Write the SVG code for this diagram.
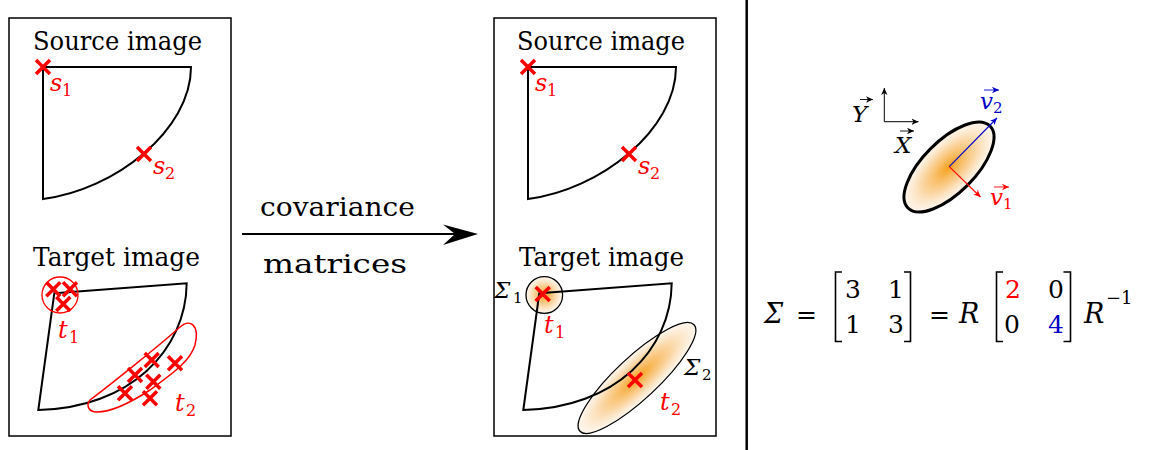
<svg xmlns="http://www.w3.org/2000/svg" width="1151" height="450" viewBox="0 0 1151 450">
<defs>
<style>
.box{fill:none;stroke:#000;stroke-width:1.5}
.shape{fill:none;stroke:#000;stroke-width:2}
.title{font-size:26px;fill:#000}
.lab{font-style:italic;font-size:24px;fill:#f00}
.sub{font-size:16px;fill:#f00}
.blab{font-style:italic;font-size:23px;fill:#000}
.bsub{font-size:15px;fill:#000}
.eq{font-size:25px;fill:#000}
.eqi{font-style:italic;font-size:27px;fill:#000}
.br{fill:none;stroke:#000;stroke-width:1.6}
</style>
<radialGradient id="glow" cx="0.5" cy="0.5" r="0.5">
<stop offset="0" stop-color="#f6a01a" stop-opacity="1"/>
<stop offset="0.55" stop-color="#f9c47a" stop-opacity="0.75"/>
<stop offset="1" stop-color="#fdeedd" stop-opacity="0.5"/>
</radialGradient>
<path id="cross" d="M-7,-7 L7,7 M7,-7 L-7,7" stroke="#f00" stroke-width="3.5" fill="none"/>
<marker id="ahk" markerWidth="8" markerHeight="8" refX="7" refY="4" orient="auto" markerUnits="userSpaceOnUse"><path d="M0,0.8 L7,4 L0,7.2 L2,4 Z" fill="#000"/></marker>
<marker id="ahr" markerWidth="8" markerHeight="8" refX="7" refY="4" orient="auto" markerUnits="userSpaceOnUse"><path d="M0,0.8 L7,4 L0,7.2 L2,4 Z" fill="#f00"/></marker>
<marker id="ahb" markerWidth="8" markerHeight="8" refX="7" refY="4" orient="auto" markerUnits="userSpaceOnUse"><path d="M0,0.8 L7,4 L0,7.2 L2,4 Z" fill="#0000c8"/></marker>
</defs>

<g font-family="DejaVu Serif, Liberation Serif, Noto Serif, serif">
<g id="left-panel">
<rect class="box" x="9" y="18" width="222" height="418"/>
<text class="title" x="33" y="50" textLength="169" lengthAdjust="spacingAndGlyphs">Source image</text>
<path class="shape" d="M43,67 L191,67 C191,130 115,190 43,199 Z"/>
<use href="#cross" x="43" y="67"/>
<use href="#cross" x="144" y="154"/>
<text class="lab" x="50" y="91">s</text><text class="sub" x="62" y="96">1</text>
<text class="lab" x="153" y="174">s</text><text class="sub" x="165" y="179">2</text>
<text class="title" x="33" y="266" textLength="167" lengthAdjust="spacingAndGlyphs">Target image</text>
<path class="shape" d="M54.3,293.3 L186.7,283.3 C186,350 130,408 38.3,410 Z"/>
<circle cx="60" cy="295" r="18" fill="none" stroke="#f00" stroke-width="1.3"/>
<path d="M90,400 C110,385 160,345 180,327 C190,318 200,325 195,345 C190,362 170,375 150,390 C130,403 110,412 97,412 C88,412 86,405 90,400 Z" fill="none" stroke="#f00" stroke-width="1.5"/>
<use href="#cross" x="53.3" y="289.3"/>
<use href="#cross" x="70" y="289.3"/>
<use href="#cross" x="63.3" y="304"/>
<use href="#cross" x="151.7" y="360"/>
<use href="#cross" x="175" y="363.3"/>
<use href="#cross" x="135" y="375"/>
<use href="#cross" x="153.3" y="381.7"/>
<use href="#cross" x="125" y="393.3"/>
<use href="#cross" x="150" y="398.3"/>
<text class="lab" x="58" y="338">t</text><text class="sub" x="69" y="343">1</text>
<text class="lab" x="175" y="411">t</text><text class="sub" x="186" y="416">2</text>
</g>

<g id="connectors">
<line x1="242" y1="234" x2="458" y2="234" stroke="#000" stroke-width="2"/>
<path d="M478,234 L443,224.5 L455,234 L443,245 Z" fill="#000"/>
<text class="title" x="260" y="216" textLength="155" lengthAdjust="spacingAndGlyphs">covariance</text>
<text class="title" x="263" y="273" textLength="144" lengthAdjust="spacingAndGlyphs">matrices</text>
</g>

<g id="middle-panel">
<rect class="box" x="494" y="18" width="222" height="418"/>
<text class="title" x="517" y="50" textLength="168" lengthAdjust="spacingAndGlyphs">Source image</text>
<path class="shape" d="M528,67 L676,67 C676,130 600,190 528,199 Z"/>
<use href="#cross" x="528" y="67"/>
<use href="#cross" x="629" y="154"/>
<text class="lab" x="535" y="91">s</text><text class="sub" x="547" y="96">1</text>
<text class="lab" x="638" y="174">s</text><text class="sub" x="650" y="179">2</text>
<text class="title" x="519" y="266" textLength="165" lengthAdjust="spacingAndGlyphs">Target image</text>
<circle cx="544.3" cy="295" r="18.3" fill="url(#glow)" stroke="#000" stroke-width="1.3"/>
<ellipse cx="637" cy="378" rx="78" ry="21" transform="rotate(-43 637 378)" fill="url(#glow)" stroke="#000" stroke-width="1.3"/>
<path class="shape" d="M539.3,293.3 L671.7,283.3 C671,350 615,408 523.3,410 Z"/>
<use href="#cross" x="542.7" y="294"/>
<use href="#cross" x="635" y="380"/>
<text class="blab" x="494" y="298">Σ</text><text class="bsub" x="513" y="303">1</text>
<text class="blab" x="684" y="375">Σ</text><text class="bsub" x="702" y="380">2</text>
<text class="lab" x="544" y="333">t</text><text class="sub" x="555" y="338">1</text>
<text class="lab" x="660" y="410">t</text><text class="sub" x="671" y="415">2</text>
</g>

<line id="divider" x1="746.7" y1="0" x2="746.7" y2="450" stroke="#000" stroke-width="2.5"/>

<g id="right-panel">
<line x1="884.3" y1="121.7" x2="884.3" y2="88" stroke="#000" stroke-width="1" marker-end="url(#ahk)"/>
<line x1="884.3" y1="121.7" x2="918.5" y2="121.7" stroke="#000" stroke-width="1" marker-end="url(#ahk)"/>
<text class="blab" x="852" y="122">Y</text>
<line x1="860" y1="99.5" x2="873" y2="99.5" stroke="#000" stroke-width="0.9" marker-end="url(#ahk)"/>
<text class="blab" x="895" y="153">X</text>
<line x1="900" y1="131" x2="914" y2="131" stroke="#000" stroke-width="0.9" marker-end="url(#ahk)"/>
<ellipse cx="949" cy="167" rx="58" ry="26" transform="rotate(-45 949 167)" fill="url(#glow)" stroke="#000" stroke-width="3"/>
<line x1="949.3" y1="166.7" x2="997" y2="118" stroke="#0000c8" stroke-width="1.1" marker-end="url(#ahb)"/>
<line x1="949.3" y1="166.7" x2="980.5" y2="197" stroke="#f00" stroke-width="1.1" marker-end="url(#ahr)"/>
<text class="blab" x="980" y="109" style="fill:#0000c8">v</text><text class="bsub" x="993" y="113" style="fill:#0000c8">2</text>
<line x1="984" y1="90" x2="999" y2="90" stroke="#0000c8" stroke-width="0.9" marker-end="url(#ahb)"/>
<text class="blab" x="990" y="205" style="fill:#f00">v</text><text class="bsub" x="1003" y="209" style="fill:#f00">1</text>
<line x1="994" y1="187" x2="1009" y2="187" stroke="#f00" stroke-width="0.9" marker-end="url(#ahr)"/>
</g>

<g id="equation">
<text class="eqi" x="764" y="323">Σ</text>
<text class="eq" x="796" y="323">=</text>
<path class="br" d="M842,272 L835.5,272 L835.5,341.5 L842,341.5"/>
<text class="eq" x="845" y="298">3</text>
<text class="eq" x="888" y="298">1</text>
<text class="eq" x="845" y="333">1</text>
<text class="eq" x="888" y="333">3</text>
<path class="br" d="M904,272 L910.5,272 L910.5,341.5 L904,341.5"/>
<text class="eq" x="929" y="323">=</text>
<text class="eqi" x="959" y="323">R</text>
<path class="br" d="M1003,272 L996.5,272 L996.5,341.5 L1003,341.5"/>
<text class="eq" x="1005" y="298" style="fill:#f00">2</text>
<text class="eq" x="1048" y="298">0</text>
<text class="eq" x="1004" y="333">0</text>
<text class="eq" x="1048" y="333" style="fill:#0000c8">4</text>
<path class="br" d="M1063.5,272 L1070.5,272 L1070.5,341.5 L1063.5,341.5"/>
<text class="eqi" x="1084" y="323">R</text>
<text class="eq" x="1106" y="304" style="font-size:18px">−1</text>
</g>
</g>
</svg>
